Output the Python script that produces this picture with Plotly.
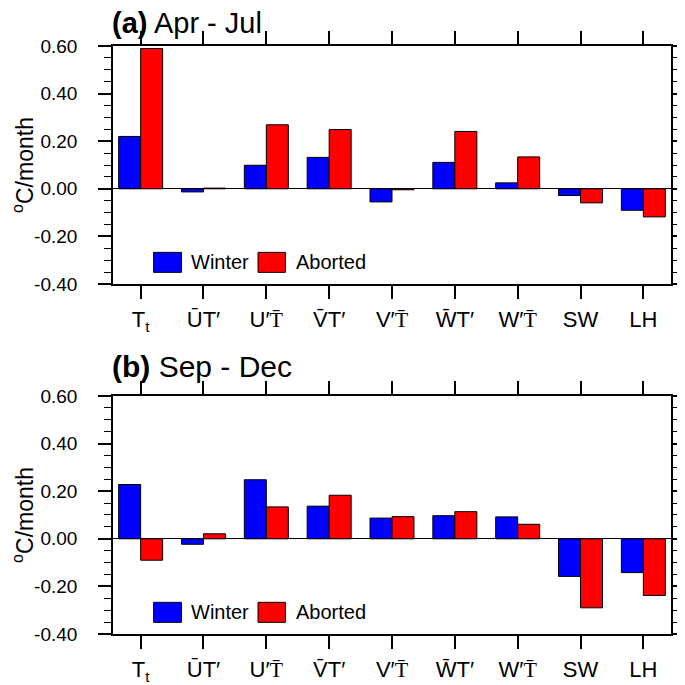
import plotly.graph_objects as go

SERIF_T = "<span style=\"font-family:Liberation Serif\">T̄</span>"
categories = [
    "T<sub>t</sub>",
    "ŪT′",
    "U′" + SERIF_T,
    "V̄T′",
    "V′" + SERIF_T,
    "W̄T′",
    "W′" + SERIF_T,
    "SW",
    "LH",
]
winter_a = [0.22, -0.013, 0.099, 0.132, -0.055, 0.111, 0.025, -0.028, -0.090]
aborted_a = [0.589, 0.003, 0.269, 0.249, -0.004, 0.241, 0.134, -0.059, -0.118]
winter_b = [0.228, -0.023, 0.248, 0.137, 0.087, 0.097, 0.092, -0.158, -0.142]
aborted_b = [-0.090, 0.021, 0.134, 0.183, 0.093, 0.114, 0.061, -0.290, -0.238]

ytick_vals = [-0.4, -0.2, 0.0, 0.2, 0.4, 0.6]
ytick_text = ["-0.40", "-0.20", "0.00", "0.20", "0.40", "0.60"]
titles = ["<b>(a)</b> Apr - Jul", "<b>(b)</b> Sep - Dec"]
series_names = ["Winter", "Aborted"]
colors = ["#0000FF", "#FF0000"]

FONT = "Liberation Sans, Arial, Helvetica, sans-serif"

fig = go.Figure()
panels = [(winter_a, aborted_a), (winter_b, aborted_b)]
for i, (w, a) in enumerate(panels):
    xa = "x" if i == 0 else "x2"
    ya = "y" if i == 0 else "y2"
    for vals, name, col in zip((w, a), series_names, colors):
        fig.add_trace(go.Bar(
            x=categories, y=vals, name=name, marker_color=col,
            marker_line=dict(color="black", width=1),
            xaxis=xa, yaxis=ya, showlegend=False,
            offsetgroup=name,
        ))

axis_common = dict(
    showline=True, linecolor="black", linewidth=1.6, mirror="ticks",
    ticks="outside", ticklen=13, tickwidth=1.6, tickcolor="black",
    showgrid=False, automargin=False,
)

# page body adds an 8px offset, so margins compensate
fig.update_layout(
    width=685, height=685,
    margin=dict(l=105, r=22, t=38, b=59, autoexpand=False),
    paper_bgcolor="white", plot_bgcolor="white",
    barmode="group", bargap=0.3, bargroupgap=0,
    font=dict(family=FONT, color="black"),
    showlegend=False,
)

domains = [[0.5952, 1.0], [0.0, 0.4048]]
title_y = [1.098, 1.125]
title_size = [29, 30]
for i in range(2):
    sx = "" if i == 0 else "2"
    fig.update_layout(**{
        f"xaxis{sx}": dict(
            axis_common, domain=[0, 1], range=[-0.44, 8.44], type="category",
            anchor=f"y{sx}", tickfont=dict(size=22), ticklabelstandoff=2,
        ),
        f"yaxis{sx}": dict(
            axis_common, domain=domains[i], range=[-0.4, 0.6],
            anchor=f"x{sx}", tickvals=ytick_vals, ticktext=ytick_text,
            tickfont=dict(size=19), ticklabelstandoff=17,
            zeroline=True, zerolinecolor="black", zerolinewidth=1.2,
            minor=dict(dtick=0.05, ticklen=7, tickwidth=1.2, tickcolor="black", ticks="outside", showgrid=False),
            title=dict(text="<sup>o</sup>C/month", font=dict(size=23), standoff=2),
        ),
    })
    fig.add_annotation(
        xref=f"x{sx} domain", yref=f"y{sx} domain", x=-0.005, y=title_y[i],
        xanchor="left", yanchor="middle", text=titles[i], showarrow=False,
        font=dict(size=title_size[i], family=FONT),
    )
    # legend boxes
    box_x = [(0.0728, 0.1226), (0.2599, 0.3090)]
    text_x = [0.137, 0.3235]
    for (x0, x1), tx, name, col in zip(box_x, text_x, series_names, colors):
        fig.add_shape(type="rect", xref=f"x{sx} domain", yref=f"y{sx} domain",
                      x0=x0, x1=x1, y0=0.049, y1=0.133, fillcolor=col,
                      line=dict(color="black", width=1))
        fig.add_annotation(xref=f"x{sx} domain", yref=f"y{sx} domain",
                           x=tx, y=0.091, xanchor="left", yanchor="middle",
                           text=name, showarrow=False, font=dict(size=20, family=FONT))

fig.write_html("out.html")
